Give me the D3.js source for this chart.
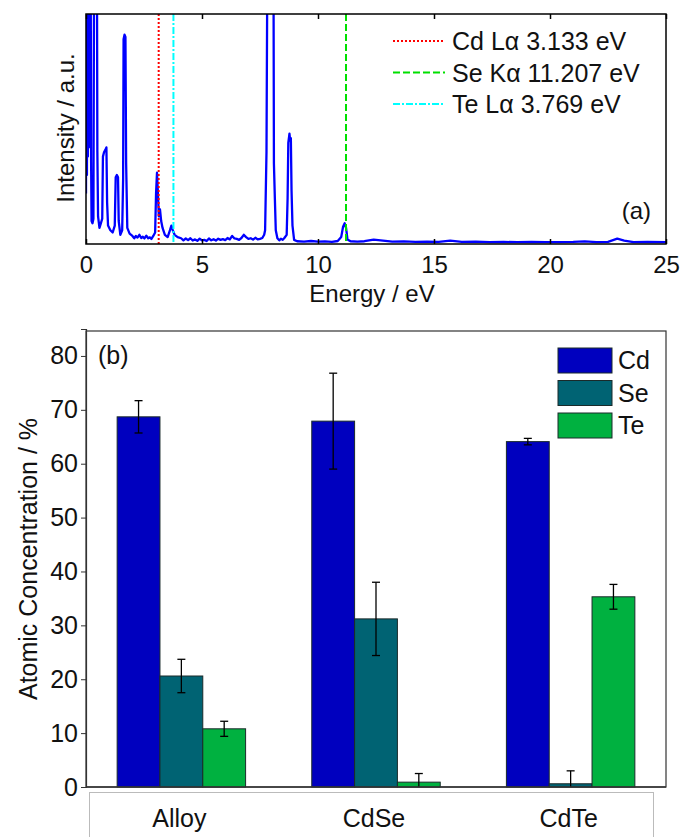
<!DOCTYPE html>
<html>
<head>
<meta charset="utf-8">
<script src="https://cdn.jsdelivr.net/npm/d3@7"></script>
<style>
  body { margin: 0; background: #fff; }
  svg text { font-family: "Liberation Sans", Arial, sans-serif; fill: #111; }
</style>
</head>
<body>
<div id="chart"></div>
<script>
// (a) EDX spectrum (intensity in arbitrary units, >100 is clipped)
const energies = [0.00, 0.02, 0.04, 0.06, 0.08, 0.10, 0.12, 0.14, 0.17, 0.20, 0.22, 0.24, 0.28, 0.32, 0.35, 0.47, 0.49, 0.52, 0.58, 0.64,
    0.70, 0.73, 0.78, 0.84, 0.88, 0.91, 0.95, 1.05, 1.15, 1.24, 1.28, 1.33, 1.38, 1.41, 1.48, 1.56, 1.60, 1.62, 1.66, 1.70,
    1.73, 1.78, 1.88, 2.00, 2.08, 2.15, 2.22, 2.30, 2.38, 2.45, 2.52, 2.60, 2.68, 2.75, 2.82, 2.90, 2.98, 3.02, 3.06, 3.10,
    3.14, 3.19, 3.24, 3.30, 3.40, 3.52, 3.62, 3.68, 3.74, 3.82, 3.95, 4.10, 4.20, 4.30, 4.40, 4.50, 4.60, 4.70, 4.80, 4.90,
    5.00, 5.10, 5.20, 5.30, 5.40, 5.50, 5.60, 5.70, 5.80, 5.90, 6.00, 6.10, 6.20, 6.30, 6.40, 6.50, 6.60, 6.70, 6.80, 6.90,
    7.00, 7.10, 7.20, 7.30, 7.40, 7.50, 7.60, 7.68, 7.72, 7.78, 7.82, 8.08, 8.10, 8.14, 8.18, 8.25, 8.33, 8.40, 8.48, 8.55,
    8.65, 8.69, 8.72, 8.77, 8.80, 8.83, 8.86, 8.90, 8.97, 9.10, 9.40, 9.70, 10.0, 10.3, 10.6, 10.85, 11.00, 11.08, 11.15, 11.21,
    11.27, 11.4, 11.7, 12.0, 12.4, 12.8, 13.2, 13.7, 14.2, 14.7, 15.2, 15.7, 16.2, 16.8, 17.4, 18.0, 18.6, 19.2, 19.8, 20.4,
    21.0, 21.5, 22.0, 22.5, 22.9, 23.2, 23.6, 24.2, 25.0];
const counts = [22, 130, 30, 130, 38, 130, 42, 130, 45, 130, 36, 10, 9, 11, 130, 130, 40, 12, 7, 9,
    11, 38, 40, 41, 42, 18, 8, 6, 5, 8, 29, 30, 29, 10, 4, 6, 28, 89, 91, 90,
    35, 7, 4.5, 3.5, 2.5, 3.5, 2.8, 4, 2.6, 3.2, 2.4, 3.6, 2.5, 2.9, 2.2, 3.5, 5, 22, 31, 22,
    12, 15, 10, 7, 4, 3, 6, 8, 6, 4, 3, 2.5, 1.6, 2.4, 1.7, 2.5, 1.5, 2.0, 1.4, 2.3,
    1.6, 1.8, 1.3, 2.4, 1.6, 2.1, 1.5, 2.3, 1.8, 2.1, 1.7, 2.6, 2.0, 3.5, 2.4, 2.2, 1.8, 2.6, 4.0, 3.0,
    2.2, 2.5, 1.9, 2.7, 2.0, 2.2, 2.6, 4, 6, 40, 130, 130, 35, 20, 6, 2.5, 1.6, 2.3, 1.8, 2.6,
    4, 20, 44, 48, 45, 46, 23, 8, 1.8, 1.2, 1.0, 1.3, 1.0, 1.1, 0.9, 1.3, 3, 7.5, 9, 7,
    2, 1.2, 1.0, 1.2, 1.9, 1.5, 1.0, 1.1, 0.9, 1.0, 0.9, 1.5, 0.9, 1.0, 0.8, 0.9, 0.8, 0.9, 0.8, 0.8,
    0.9, 1.1, 0.8, 0.9, 2.3, 1.5, 0.8, 0.9, 0.8];
const energyTicks = [0, 5, 10, 15, 20, 25];

const lineNames = ["Cd L\u03b1 3.133 eV", "Se K\u03b1 11.207 eV", "Te L\u03b1 3.769 eV"];
const lineEnergies = [3.133, 11.207, 3.769];
const lineColors = ["#ff0000", "#00e000", "#00ffff"];
const lineDashes = ["2,2", "7,3", "7,2,2,2"];

// (b) atomic concentration
const samples = ["Alloy", "CdSe", "CdTe"];
const elements = ["Cd", "Se", "Te"];
const cdValues = [68.7, 67.9, 64.1];
const seValues = [20.6, 31.2, 0.6];
const teValues = [10.8, 0.9, 35.3];
const cdErrors = [3.0, 8.9, 0.6];
const seErrors = [3.1, 6.8, 2.4];
const teErrors = [1.4, 1.6, 2.3];
const concTicks = [0, 10, 20, 30, 40, 50, 60, 70, 80];
const elementColors = ["#0000bf", "#006373", "#00b140"];

const W = 683, H = 837;
const svg = d3.select("#chart").append("svg")
    .attr("width", W).attr("height", H);

// ---------- panel (a) ----------
const a = { left: 86, right: 666, top: 14, bottom: 244 };

const xE = d3.scaleLinear().domain([0, 25]).range([a.left, a.right]);
const yI = d3.scaleLinear().domain([0, 100]).range([a.bottom, a.top]);

svg.append("clipPath").attr("id", "clipA")
    .append("rect")
    .attr("x", a.left).attr("y", a.top)
    .attr("width", a.right - a.left).attr("height", a.bottom - a.top);

const spectrum = energies.map((e, i) => ({ e: e, c: counts[i] }));

svg.append("path")
    .datum(spectrum)
    .attr("clip-path", "url(#clipA)")
    .attr("fill", "none")
    .attr("stroke", "#0000ff")
    .attr("stroke-width", 2.3)
    .attr("stroke-linejoin", "round")
    .attr("d", d3.line().x(d => xE(d.e)).y(d => yI(d.c)));

lineEnergies.forEach((e, i) => {
    svg.append("line")
        .attr("x1", xE(e)).attr("x2", xE(e))
        .attr("y1", a.top).attr("y2", a.bottom)
        .attr("stroke", lineColors[i])
        .attr("stroke-width", 2)
        .attr("stroke-dasharray", lineDashes[i]);
});

svg.append("rect")
    .attr("x", a.left).attr("y", a.top)
    .attr("width", a.right - a.left).attr("height", a.bottom - a.top)
    .attr("fill", "none").attr("stroke", "#000").attr("stroke-width", 1.5);

const axA = svg.append("g")
    .attr("transform", `translate(0,${a.bottom})`)
    .call(d3.axisBottom(xE).tickValues(energyTicks).tickSize(-5).tickPadding(12).tickFormat(d3.format("d")));
axA.select(".domain").remove();
axA.selectAll("line").attr("stroke", "#000").attr("stroke-width", 1.5);
axA.selectAll("text").attr("font-size", 24).attr("fill", "#111");

// inner ticks on the top edge too
svg.append("g")
    .attr("transform", `translate(0,${a.top})`)
    .call(d3.axisTop(xE).tickValues(energyTicks).tickSize(-5).tickFormat(""))
    .call(g => g.select(".domain").remove())
    .selectAll("line").attr("stroke", "#000").attr("stroke-width", 1.5);

svg.append("text")
    .attr("x", 372).attr("y", 302)
    .attr("text-anchor", "middle").attr("font-size", 24)
    .text("Energy / eV");

svg.append("text")
    .attr("transform", `translate(74,128) rotate(-90)`)
    .attr("text-anchor", "middle").attr("font-size", 24)
    .text("Intensity / a.u.");

svg.append("text")
    .attr("x", 651).attr("y", 219)
    .attr("text-anchor", "end").attr("font-size", 24)
    .text("(a)");

// legend (a)
const legA = svg.append("g");
lineNames.forEach((name, i) => {
    const y = 41 + i * 31.5;
    legA.append("line")
        .attr("x1", 393).attr("x2", 445).attr("y1", y).attr("y2", y)
        .attr("stroke", lineColors[i]).attr("stroke-width", 2)
        .attr("stroke-dasharray", lineDashes[i]);
    legA.append("text")
        .attr("x", 452).attr("y", y + 9)
        .attr("font-size", 25)
        .text(name);
});

// ---------- panel (b) ----------
const b = { left: 86, right: 666, top: 331, bottom: 787 };

const x0 = d3.scaleBand().domain(samples).range([b.left, b.right])
    .paddingInner(0.34).paddingOuter(0.16);
const x1 = d3.scaleBand().domain(elements).range([0, x0.bandwidth()]);
const yC = d3.scaleLinear().domain([0, 85]).range([b.bottom, 329]);

const valueTable = [cdValues, seValues, teValues];
const errorTable = [cdErrors, seErrors, teErrors];
const barData = [];
samples.forEach((s, i) => {
    elements.forEach((el, j) => {
        barData.push({ sample: s, element: el, value: valueTable[j][i], err: errorTable[j][i], color: elementColors[j] });
    });
});

svg.append("rect")
    .attr("x", b.left).attr("y", b.top)
    .attr("width", b.right - b.left).attr("height", b.bottom - b.top)
    .attr("fill", "#fff").attr("stroke", "#333").attr("stroke-width", 1.2);

svg.selectAll(".bar")
    .data(barData)
    .enter().append("rect")
    .attr("class", "bar")
    .attr("x", d => x0(d.sample) + x1(d.element))
    .attr("y", d => yC(d.value))
    .attr("width", x1.bandwidth())
    .attr("height", d => yC(0) - yC(d.value))
    .attr("fill", d => d.color)
    .attr("stroke", "#1a2a2a")
    .attr("stroke-width", 1);

const errG = svg.append("g")
    .attr("stroke", "#000").attr("stroke-width", 1.3);
barData.forEach(d => {
    const cx = x0(d.sample) + x1(d.element) + x1.bandwidth() / 2;
    const lo = Math.max(0, d.value - d.err);
    const hi = d.value + d.err;
    errG.append("line").attr("x1", cx).attr("x2", cx).attr("y1", yC(lo)).attr("y2", yC(hi));
    errG.append("line").attr("x1", cx - 4).attr("x2", cx + 4).attr("y1", yC(hi)).attr("y2", yC(hi));
    if (d.value - d.err > 0) {
        errG.append("line").attr("x1", cx - 4).attr("x2", cx + 4).attr("y1", yC(lo)).attr("y2", yC(lo));
    }
});

const axB = svg.append("g")
    .attr("transform", `translate(${b.left},0)`)
    .call(d3.axisLeft(yC).tickValues(concTicks).tickSize(5).tickPadding(3));
axB.select(".domain").attr("stroke", "#333").attr("stroke-width", 1.2);
axB.selectAll("line").attr("stroke", "#333");
axB.selectAll("text").attr("font-size", 25).attr("fill", "#111");

svg.append("line")
    .attr("x1", b.left).attr("x2", b.right).attr("y1", b.bottom).attr("y2", b.bottom)
    .attr("stroke", "#333").attr("stroke-width", 1.4);

// category label box under the axis
svg.append("rect")
    .attr("x", 89.5).attr("y", 792.5)
    .attr("width", 564).attr("height", 60)
    .attr("fill", "none").attr("stroke", "#bbb").attr("stroke-width", 1);

svg.selectAll(".cat")
    .data(samples)
    .enter().append("text")
    .attr("class", "cat")
    .attr("x", d => x0(d) + x0.bandwidth() / 2 - 2)
    .attr("y", 827)
    .attr("text-anchor", "middle").attr("font-size", 25)
    .text(d => d);

svg.append("text")
    .attr("transform", `translate(37,559) rotate(-90)`)
    .attr("text-anchor", "middle").attr("font-size", 25)
    .text("Atomic Concentration / %");

svg.append("text")
    .attr("x", 98).attr("y", 364)
    .attr("font-size", 25)
    .text("(b)");

// legend (b)
const legB = svg.append("g");
elements.forEach((el, i) => {
    const y = 348 + i * 32.5;
    legB.append("rect")
        .attr("x", 558).attr("y", y).attr("width", 54).attr("height", 25)
        .attr("fill", elementColors[i]).attr("stroke", "#1a2a2a").attr("stroke-width", 1);
    legB.append("text")
        .attr("x", 618).attr("y", y + 21)
        .attr("font-size", 25)
        .text(el);
});
</script>
</body>
</html>
